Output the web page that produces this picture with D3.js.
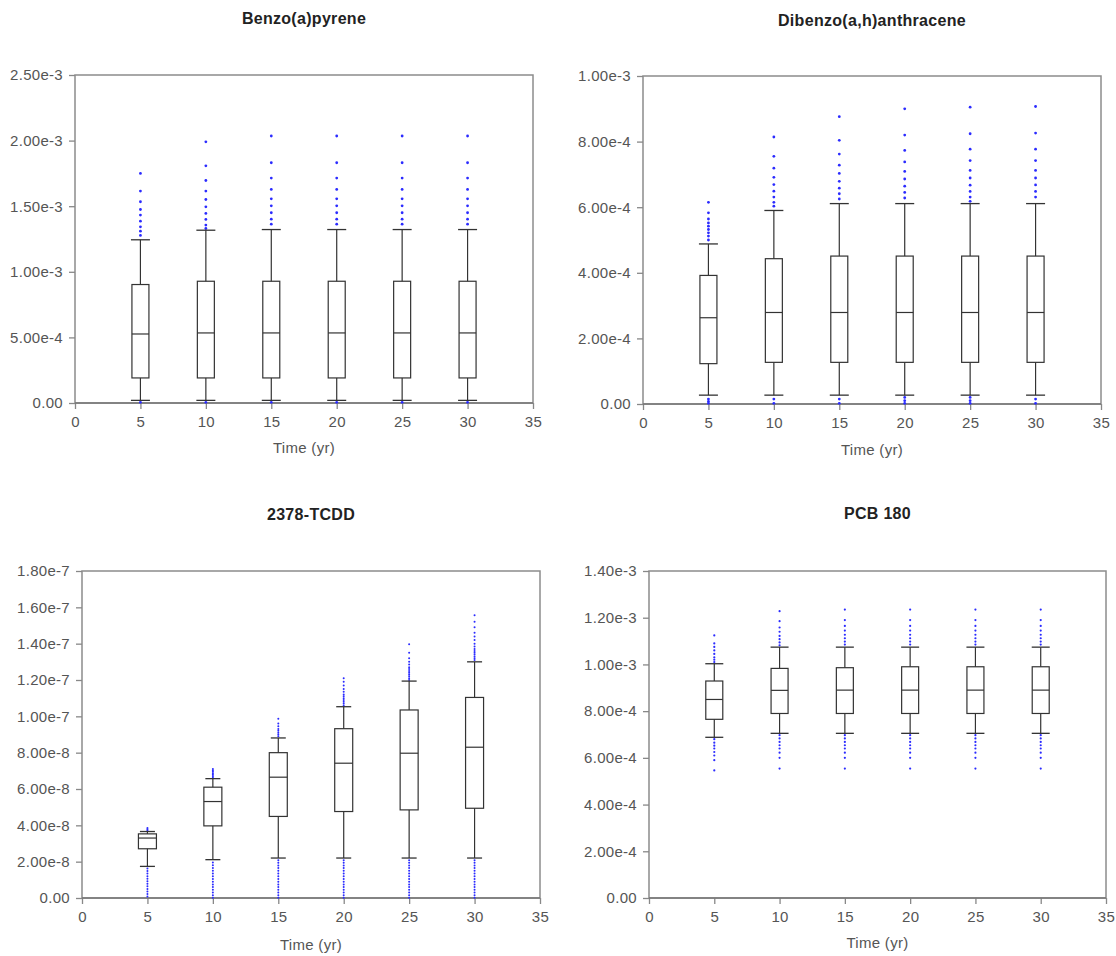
<!DOCTYPE html>
<html>
<head>
<meta charset="utf-8">
<script src="https://cdn.jsdelivr.net/npm/d3@7"></script>
<style>
  body { margin: 0; background: #fff; }
  svg { display: block; font-family: "Liberation Sans", Arial, sans-serif; }
  .tick text { fill: #555; font-size: 15px; letter-spacing: 0.3px; }
  .tick line { stroke: #888; stroke-width: 1.3; }
</style>
</head>
<body>
<div id="chart"></div>
<script>
var xTicks = [0, 5, 10, 15, 20, 25, 30, 35];
var times = [5, 10, 15, 20, 25, 30];

// Benzo(a)pyrene
var bapYTicks = ["0.00", "5.00e-4", "1.00e-3", "1.50e-3", "2.00e-3", "2.50e-3"];
var bapLoW = [2.0e-5, 2.0e-5, 2.0e-5, 2.0e-5, 2.0e-5, 2.0e-5];
var bapQ1 = [1.91e-4, 1.91e-4, 1.91e-4, 1.91e-4, 1.91e-4, 1.91e-4];
var bapMed = [5.26e-4, 5.34e-4, 5.34e-4, 5.34e-4, 5.34e-4, 5.34e-4];
var bapQ3 = [9.03e-4, 9.28e-4, 9.28e-4, 9.28e-4, 9.28e-4, 9.28e-4];
var bapHiW = [1.244e-3, 1.317e-3, 1.322e-3, 1.322e-3, 1.322e-3, 1.322e-3];
var bapOut = [
    [1.75e-3, 1.615e-3, 1.534e-3, 1.475e-3, 1.432e-3, 1.386e-3, 1.343e-3, 1.31e-3, 1.277e-3, 5e-6],
    [1.991e-3, 1.808e-3, 1.696e-3, 1.615e-3, 1.551e-3, 1.495e-3, 1.445e-3, 1.399e-3, 1.356e-3, 1.33e-3, 5e-6],
    [2.035e-3, 1.831e-3, 1.714e-3, 1.628e-3, 1.556e-3, 1.503e-3, 1.45e-3, 1.401e-3, 1.363e-3, 5e-6],
    [2.035e-3, 1.831e-3, 1.714e-3, 1.628e-3, 1.556e-3, 1.503e-3, 1.45e-3, 1.401e-3, 1.363e-3, 5e-6],
    [2.035e-3, 1.831e-3, 1.714e-3, 1.628e-3, 1.556e-3, 1.503e-3, 1.45e-3, 1.401e-3, 1.363e-3, 5e-6],
    [2.035e-3, 1.831e-3, 1.714e-3, 1.628e-3, 1.556e-3, 1.503e-3, 1.45e-3, 1.401e-3, 1.363e-3, 5e-6]
];

// Dibenzo(a,h)anthracene
var dbaYTicks = ["0.00", "2.00e-4", "4.00e-4", "6.00e-4", "8.00e-4", "1.00e-3"];
var dbaLoW = [2.7e-5, 2.7e-5, 2.7e-5, 2.7e-5, 2.7e-5, 2.7e-5];
var dbaQ1 = [1.23e-4, 1.27e-4, 1.27e-4, 1.27e-4, 1.27e-4, 1.27e-4];
var dbaMed = [2.63e-4, 2.79e-4, 2.79e-4, 2.79e-4, 2.79e-4, 2.79e-4];
var dbaQ3 = [3.92e-4, 4.43e-4, 4.51e-4, 4.51e-4, 4.51e-4, 4.51e-4];
var dbaHiW = [4.88e-4, 5.90e-4, 6.11e-4, 6.11e-4, 6.11e-4, 6.11e-4];
var dbaOut = [
    [6.15e-4, 5.83e-4, 5.64e-4, 5.52e-4, 5.42e-4, 5.32e-4, 5.22e-4, 5.12e-4, 5.0e-4, 1.5e-5, 8e-6, 2e-6],
    [8.14e-4, 7.55e-4, 7.19e-4, 6.91e-4, 6.69e-4, 6.49e-4, 6.31e-4, 6.15e-4, 6.03e-4, 1.5e-5, 2e-6],
    [8.76e-4, 8.04e-4, 7.62e-4, 7.28e-4, 7.03e-4, 6.79e-4, 6.58e-4, 6.41e-4, 6.25e-4, 1.5e-5, 2e-6],
    [9.0e-4, 8.2e-4, 7.73e-4, 7.38e-4, 7.09e-4, 6.86e-4, 6.64e-4, 6.45e-4, 6.28e-4, 2.0e-5, 1.0e-5, 2e-6],
    [9.05e-4, 8.24e-4, 7.77e-4, 7.42e-4, 7.12e-4, 6.89e-4, 6.67e-4, 6.48e-4, 6.31e-4, 6.18e-4, 2.0e-5, 1.0e-5, 2e-6],
    [9.07e-4, 8.26e-4, 7.77e-4, 7.42e-4, 7.12e-4, 6.89e-4, 6.68e-4, 6.48e-4, 6.31e-4, 1.5e-5, 2e-6]
];

// 2378-TCDD
var tcddYTicks = ["0.00", "2.00e-8", "4.00e-8", "6.00e-8", "8.00e-8", "1.00e-7", "1.20e-7", "1.40e-7", "1.60e-7", "1.80e-7"];
var tcddLoW = [1.74e-8, 2.11e-8, 2.20e-8, 2.20e-8, 2.20e-8, 2.20e-8];
var tcddQ1 = [2.71e-8, 3.97e-8, 4.49e-8, 4.76e-8, 4.85e-8, 4.94e-8];
var tcddMed = [3.30e-8, 5.31e-8, 6.65e-8, 7.42e-8, 7.97e-8, 8.30e-8];
var tcddQ3 = [3.53e-8, 6.10e-8, 8.00e-8, 9.32e-8, 10.35e-8, 11.04e-8];
var tcddHiW = [3.66e-8, 6.57e-8, 8.81e-8, 10.53e-8, 11.94e-8, 13.0e-8];
var tcddLowTail = [2.08e-8, 1.94e-8, 1.79e-8, 1.65e-8, 1.5e-8, 1.35e-8, 1.2e-8, 1.05e-8, 0.9e-8, 0.75e-8, 0.6e-8, 0.45e-8, 0.3e-8, 0.15e-8, 0.02e-8];
var tcddOut = [
    [3.72e-8, 3.78e-8, 3.85e-8, 1.62e-8, 1.48e-8, 1.35e-8, 1.2e-8, 1.06e-8, 0.92e-8, 0.78e-8, 0.64e-8, 0.5e-8, 0.36e-8, 0.22e-8, 0.08e-8],
    [6.65e-8, 6.72e-8, 6.8e-8, 6.87e-8, 6.95e-8, 7.02e-8, 7.1e-8, 1.95e-8, 1.8e-8, 1.65e-8, 1.5e-8, 1.35e-8, 1.2e-8, 1.05e-8, 0.9e-8, 0.75e-8, 0.6e-8, 0.45e-8, 0.3e-8, 0.15e-8, 0.02e-8],
    [8.9e-8, 9.0e-8, 9.1e-8, 9.2e-8, 9.3e-8, 9.45e-8, 9.6e-8, 9.87e-8].concat(tcddLowTail),
    [10.6e-8, 10.7e-8, 10.8e-8, 10.9e-8, 11.0e-8, 11.1e-8, 11.2e-8, 11.35e-8, 11.5e-8, 11.7e-8, 11.9e-8, 12.09e-8].concat(tcddLowTail),
    [12.0e-8, 12.1e-8, 12.2e-8, 12.3e-8, 12.4e-8, 12.5e-8, 12.6e-8, 12.7e-8, 12.85e-8, 13.0e-8, 13.2e-8, 13.5e-8, 13.97e-8].concat(tcddLowTail),
    [13.1e-8, 13.2e-8, 13.3e-8, 13.4e-8, 13.5e-8, 13.6e-8, 13.7e-8, 13.85e-8, 14.0e-8, 14.2e-8, 14.4e-8, 14.6e-8, 14.9e-8, 15.2e-8, 15.56e-8].concat(tcddLowTail)
];

// PCB 180
var pcbYTicks = ["0.00", "2.00e-4", "4.00e-4", "6.00e-4", "8.00e-4", "1.00e-3", "1.20e-3", "1.40e-3"];
var pcbLoW = [6.88e-4, 7.05e-4, 7.05e-4, 7.05e-4, 7.05e-4, 7.05e-4];
var pcbQ1 = [7.65e-4, 7.90e-4, 7.90e-4, 7.90e-4, 7.90e-4, 7.90e-4];
var pcbMed = [8.50e-4, 8.89e-4, 8.90e-4, 8.90e-4, 8.90e-4, 8.90e-4];
var pcbQ3 = [9.29e-4, 9.83e-4, 9.86e-4, 9.90e-4, 9.90e-4, 9.90e-4];
var pcbHiW = [1.003e-3, 1.074e-3, 1.074e-3, 1.074e-3, 1.074e-3, 1.074e-3];
var pcbHighTail = [1.235e-3, 1.19e-3, 1.165e-3, 1.145e-3, 1.127e-3, 1.112e-3, 1.098e-3, 1.085e-3];
var pcbLowTail = [6.97e-4, 6.83e-4, 6.68e-4, 6.54e-4, 6.4e-4, 6.22e-4, 6.0e-4, 5.54e-4];
var pcbOut = [
    [1.124e-3, 1.09e-3, 1.075e-3, 1.06e-3, 1.045e-3, 1.03e-3, 1.02e-3, 1.01e-3, 6.8e-4, 6.65e-4, 6.52e-4, 6.4e-4, 6.25e-4, 6.1e-4, 5.9e-4, 5.46e-4],
    [1.228e-3, 1.185e-3, 1.158e-3, 1.14e-3, 1.122e-3, 1.108e-3, 1.094e-3, 1.082e-3].concat(pcbLowTail),
    pcbHighTail.concat(pcbLowTail),
    pcbHighTail.concat(pcbLowTail),
    pcbHighTail.concat(pcbLowTail),
    pcbHighTail.concat(pcbLowTail)
];

// layout of the four panels (pixels)
var panels = [
    {title: "Benzo(a)pyrene", left: 75, right: 533, top: 75, bottom: 403, titleY: 18, labelY: 448,
     yTicks: bapYTicks, lo: bapLoW, q1: bapQ1, med: bapMed, q3: bapQ3, hi: bapHiW, out: bapOut,
     boxW: 17, capW: 19, dot: 1.4},
    {title: "Dibenzo(a,h)anthracene", left: 643, right: 1101, top: 76, bottom: 404, titleY: 20, labelY: 450,
     yTicks: dbaYTicks, lo: dbaLoW, q1: dbaQ1, med: dbaMed, q3: dbaQ3, hi: dbaHiW, out: dbaOut,
     boxW: 17, capW: 19, dot: 1.4},
    {title: "2378-TCDD", left: 82, right: 540, top: 571, bottom: 898, titleY: 514, labelY: 945,
     yTicks: tcddYTicks, lo: tcddLoW, q1: tcddQ1, med: tcddMed, q3: tcddQ3, hi: tcddHiW, out: tcddOut,
     boxW: 18, capW: 15, dot: 1.0},
    {title: "PCB 180", left: 649, right: 1106, top: 571, bottom: 898, titleY: 513, labelY: 943,
     yTicks: pcbYTicks, lo: pcbLoW, q1: pcbQ1, med: pcbMed, q3: pcbQ3, hi: pcbHiW, out: pcbOut,
     boxW: 17, capW: 18, dot: 1.1}
];

var svg = d3.select("#chart").append("svg")
    .attr("width", 1116)
    .attr("height", 956);

function drawPanel(p) {
    var tickVals = p.yTicks.map(Number);
    var xScale = d3.scaleLinear().domain([0, 35]).range([p.left, p.right]);
    var yScale = d3.scaleLinear().domain([0, d3.max(tickVals)]).range([p.bottom, p.top]);
    var g = svg.append("g");

    // frame
    g.append("rect")
        .attr("x", p.left).attr("y", p.top)
        .attr("width", p.right - p.left).attr("height", p.bottom - p.top)
        .style("fill", "none").style("stroke", "#8c8c8c").style("stroke-width", 1.5);

    var yAxis = d3.axisLeft(yScale)
        .tickValues(tickVals)
        .tickFormat(function (d, i) { return p.yTicks[i]; })
        .tickSize(6).tickSizeOuter(0).tickPadding(6);
    var xAxis = d3.axisBottom(xScale)
        .tickValues(xTicks)
        .tickSize(6).tickSizeOuter(0).tickPadding(7);

    g.append("g").attr("transform", "translate(" + p.left + ",0)").call(yAxis)
        .call(function (a) { a.select(".domain").remove(); });
    g.append("g").attr("transform", "translate(0," + p.bottom + ")").call(xAxis)
        .call(function (a) { a.select(".domain").remove(); });

    // bottom axis line a bit darker
    g.append("line")
        .attr("x1", p.left).attr("x2", p.right)
        .attr("y1", p.bottom).attr("y2", p.bottom)
        .style("stroke", "#777").style("stroke-width", 1.5);

    g.append("text")
        .attr("x", (p.left + p.right) / 2).attr("y", p.titleY).attr("dy", "0.35em")
        .attr("text-anchor", "middle")
        .style("font-size", "16px").style("font-weight", "bold").style("fill", "#222")
        .style("letter-spacing", "0.3px")
        .text(p.title);

    g.append("text")
        .attr("x", (p.left + p.right) / 2).attr("y", p.labelY).attr("dy", "0.35em")
        .attr("text-anchor", "middle")
        .style("font-size", "15px").style("fill", "#555")
        .style("letter-spacing", "0.3px")
        .text("Time (yr)");

    var rows = times.map(function (t, i) {
        return {t: t, lo: p.lo[i], q1: p.q1[i], med: p.med[i], q3: p.q3[i], hi: p.hi[i], out: p.out[i]};
    });

    var boxes = g.selectAll(".box").data(rows).join("g").attr("class", "box");

    // outlier dots drawn first so whiskers sit on top
    boxes.selectAll("circle")
        .data(function (d) { return d.out.map(function (v) { return {t: d.t, v: v}; }); })
        .join("circle")
        .attr("cx", function (d) { return xScale(d.t); })
        .attr("cy", function (d) { return yScale(d.v); })
        .attr("r", p.dot)
        .style("fill", "#2b2bff");

    boxes.append("line")
        .attr("x1", function (d) { return xScale(d.t); })
        .attr("x2", function (d) { return xScale(d.t); })
        .attr("y1", function (d) { return yScale(d.hi); })
        .attr("y2", function (d) { return yScale(d.lo); })
        .style("stroke", "#333").style("stroke-width", 1.2);

    ["hi", "lo"].forEach(function (k) {
        boxes.append("line")
            .attr("x1", function (d) { return xScale(d.t) - p.capW / 2; })
            .attr("x2", function (d) { return xScale(d.t) + p.capW / 2; })
            .attr("y1", function (d) { return yScale(d[k]); })
            .attr("y2", function (d) { return yScale(d[k]); })
            .style("stroke", "#333").style("stroke-width", 1.3);
    });

    boxes.append("rect")
        .attr("x", function (d) { return xScale(d.t) - p.boxW / 2; })
        .attr("y", function (d) { return yScale(d.q3); })
        .attr("width", p.boxW)
        .attr("height", function (d) { return yScale(d.q1) - yScale(d.q3); })
        .style("fill", "#fff").style("stroke", "#333").style("stroke-width", 1.2);

    boxes.append("line")
        .attr("x1", function (d) { return xScale(d.t) - p.boxW / 2; })
        .attr("x2", function (d) { return xScale(d.t) + p.boxW / 2; })
        .attr("y1", function (d) { return yScale(d.med); })
        .attr("y2", function (d) { return yScale(d.med); })
        .style("stroke", "#333").style("stroke-width", 1.2);
}

panels.forEach(drawPanel);
</script>
</body>
</html>
